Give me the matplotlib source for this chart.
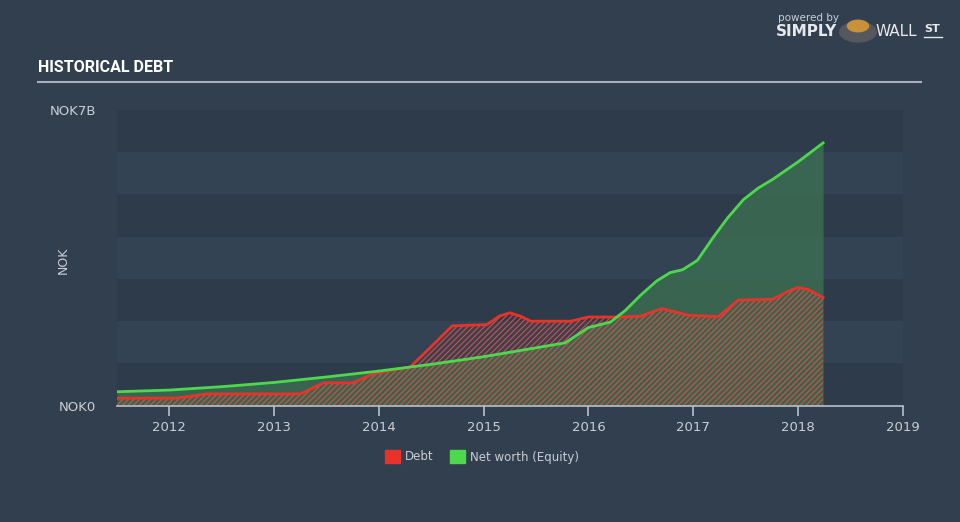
import numpy as np
import matplotlib.pyplot as plt
from matplotlib.patches import Rectangle

# Values (NOK billions)
equity_years = [2011.5, 2012.0, 2012.5, 2013.0, 2013.5, 2014.0, 2014.5, 2015.0, 2015.5,
                2015.78, 2016.0, 2016.21, 2016.35, 2016.5, 2016.65, 2016.78, 2016.9,
                2017.04, 2017.19, 2017.33, 2017.48, 2017.62, 2017.76, 2018.0, 2018.24]
equity_vals = [0.33, 0.37, 0.45, 0.55, 0.68, 0.82, 0.98, 1.16, 1.37,
               1.49, 1.85, 1.98, 2.25, 2.62, 2.95, 3.15, 3.22,
               3.44, 3.98, 4.45, 4.88, 5.15, 5.36, 5.77, 6.22]

debt_years = [2011.5, 2012.07, 2012.36, 2013.25, 2013.47, 2013.75, 2013.95, 2014.3,
              2014.5, 2014.7, 2015.03, 2015.15, 2015.25, 2015.35, 2015.45, 2015.83,
              2016.0, 2016.3, 2016.5, 2016.7, 2016.96, 2017.24, 2017.43, 2017.76,
              2017.9, 2018.0, 2018.1, 2018.24]
debt_vals = [0.18, 0.18, 0.28, 0.28, 0.54, 0.54, 0.76, 0.92,
             1.40, 1.89, 1.92, 2.12, 2.2, 2.12, 2.0, 2.0,
             2.1, 2.1, 2.12, 2.3, 2.14, 2.11, 2.5, 2.52,
             2.7, 2.8, 2.75, 2.56]

x_ticks = [2012, 2013, 2014, 2015, 2016, 2017, 2018, 2019]

BG = '#323f4f'
TXT = '#c9ced6'
GREEN = '#4cd94c'
RED = '#e8332a'

plt.rcParams['hatch.linewidth'] = 0.9

fig = plt.figure(figsize=(9.6, 5.22), dpi=100)
fig.patch.set_facecolor(BG)

ax = fig.add_axes([117/960, 1 - 405.7/522, (902.7 - 117)/960, (405.7 - 110)/522])
ax.set_facecolor(BG)
ax.set_xlim(2011.5, 2019)
ax.set_ylim(0, 7)

# alternating horizontal bands
for i in range(7):
    c = '#2e3b4b' if i % 2 == 0 else '#344354'
    ax.axhspan(i, i + 1, color=c, zorder=0, lw=0)

ey = np.array(equity_years)
ev = np.array(equity_vals)
dy = np.array(debt_years)
dv = np.array(debt_vals)

ax.fill_between(ey, 0, ev, color='#3b6f52', alpha=0.8, lw=0, zorder=1)
ax.fill_between(dy, 0, dv, facecolor='none', hatch='//////', edgecolor=(0.95, 0.3, 0.25, 0.8),
                lw=0, zorder=2)
ax.plot(dy, dv, color=RED, lw=2, zorder=3, solid_joinstyle='round')
ax.plot(ey, ev, color=GREEN, lw=2, zorder=4, solid_joinstyle='round')

for s in ['top', 'right', 'left']:
    ax.spines[s].set_visible(False)
ax.spines['bottom'].set_color('#b8c0cc')
ax.spines['bottom'].set_linewidth(1.2)

ax.set_xticks(x_ticks)
ax.set_xticklabels([str(t) for t in x_ticks], color=TXT, fontsize=9.5)
ax.tick_params(axis='x', length=7, color='#b8c0cc', width=1.2, pad=4)
ax.set_yticks([0, 7])
ax.set_yticklabels(['NOK0', 'NOK7B'], color=TXT, fontsize=9.5)
ax.tick_params(axis='y', length=0, pad=15)
fig.text(63/960, 1 - 260/522, 'NOK', color=TXT, fontsize=9, rotation=90,
         ha='center', va='center')

# title and rule
fig.text(38/960, 1 - 68/522, 'HISTORICAL DEBT', color='white', fontsize=11.5, fontweight='bold',
         family=['Liberation Sans Narrow', 'Roboto', 'DejaVu Sans'], va='center', ha='left')
fig.add_artist(plt.Line2D([38/960, 921/960], [1 - 81.5/522, 1 - 81.5/522],
                          color='#a9b0bb', lw=1.5))

# branding
fig.text(778/960, 1 - 18/522, 'powered by', color='#c9ced6', fontsize=7.5, va='center')
fig.text(776/960, 1 - 32/522, 'SIMPLY', color='#e6e8ec', fontsize=11, fontweight='bold', va='center')
fig.text(876/960, 1 - 32/522, 'WALL', color='#e6e8ec', fontsize=11, va='center')
fig.text(924/960, 1 - 29/522, 'ST', color='#e6e8ec', fontsize=8, fontweight='bold', va='center')
fig.add_artist(plt.Line2D([924/960, 942/960], [1 - 37/522, 1 - 37/522], color='#e6e8ec', lw=1))
fig.add_artist(plt.Circle((858/960, 1 - 32/522), 0.019, transform=fig.transFigure,
                          color='#55585c'))
fig.add_artist(plt.Circle((858/960, 1 - 26/522), 0.011, transform=fig.transFigure,
                          color='#c8913a'))

# legend
fig.add_artist(Rectangle((385/960, 1 - 463/522), 15/960, 13/522, transform=fig.transFigure,
                         color=RED))
fig.text(405/960, 1 - 457/522, 'Debt', color=TXT, fontsize=8.5, va='center')
fig.add_artist(Rectangle((450/960, 1 - 463/522), 15/960, 13/522, transform=fig.transFigure,
                         color=GREEN))
fig.text(470/960, 1 - 457/522, 'Net worth (Equity)', color=TXT, fontsize=8.5, va='center')

fig.savefig('out.png', dpi=100, facecolor=BG)
